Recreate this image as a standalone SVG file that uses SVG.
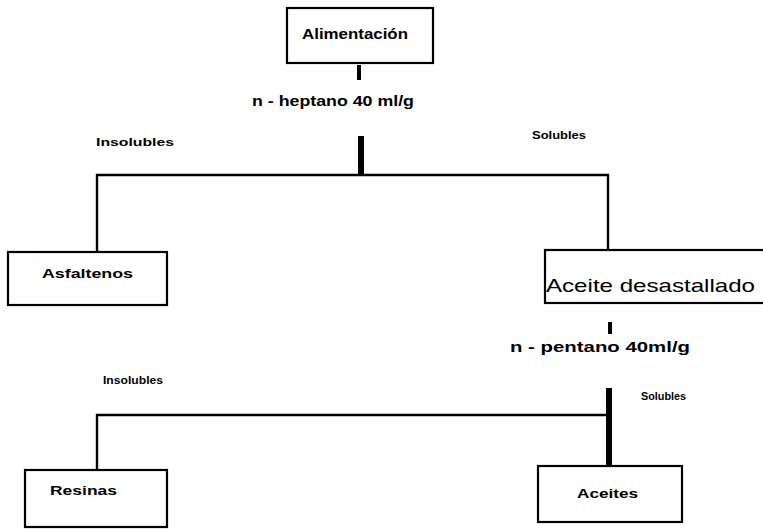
<svg xmlns="http://www.w3.org/2000/svg" width="763" height="529" viewBox="0 0 763 529">
  <style>
    .box { fill: #ffffff; stroke: #000000; stroke-width: 2.2; }
    .wire { fill: none; stroke: #000000; stroke-width: 2.4; stroke-linecap: square; }
    .trunk { fill: none; stroke: #000000; stroke-width: 6; }
    .tick { fill: none; stroke: #000000; stroke-width: 4; }
    .lbl { font-family: "Liberation Sans", Arial, sans-serif; font-weight: bold; fill: #000000; }
    .big { font-family: "Liberation Sans", Arial, sans-serif; font-size: 19px; fill: #000000; }
  </style>
  <rect width="763" height="529" fill="#ffffff"/>

  <!-- connectors -->
  <g id="connectors">
    <path class="tick" d="M359 65 V80"/>
    <path class="trunk" d="M361 136 V176"/>
    <path class="wire" d="M97 252 V175 H608 V250"/>
    <path class="tick" d="M610 322 V334"/>
    <path class="trunk" d="M609 388 V467"/>
    <path class="wire" d="M97 470 V415 H607"/>
  </g>

  <g id="alimentacion">
    <rect class="box" x="287" y="8" width="146" height="55"/>
    <text class="lbl" x="302" y="39" font-size="15" textLength="106" lengthAdjust="spacingAndGlyphs">Alimentación</text>
  </g>

  <g id="heptano">
    <text class="lbl" x="252" y="106" font-size="14" textLength="162" lengthAdjust="spacingAndGlyphs">n - heptano 40 ml/g</text>
  </g>

  <g id="insolubles-1">
    <text class="lbl" x="96" y="146" font-size="11" textLength="78" lengthAdjust="spacingAndGlyphs">Insolubles</text>
  </g>
  <g id="solubles-1">
    <text class="lbl" x="532" y="139" font-size="11" textLength="54" lengthAdjust="spacingAndGlyphs">Solubles</text>
  </g>

  <g id="asfaltenos">
    <rect class="box" x="8" y="252" width="159" height="53"/>
    <text class="lbl" x="42" y="278" font-size="12" textLength="91" lengthAdjust="spacingAndGlyphs">Asfaltenos</text>
  </g>

  <g id="aceite-desastallado">
    <rect class="box" x="545" y="250" width="222" height="53"/>
    <text class="big" x="546" y="292" textLength="209" lengthAdjust="spacingAndGlyphs">Aceite desastallado</text>
  </g>

  <g id="pentano">
    <text class="lbl" x="510" y="352" font-size="14" textLength="180" lengthAdjust="spacingAndGlyphs">n - pentano 40ml/g</text>
  </g>

  <g id="insolubles-2">
    <text class="lbl" x="103" y="384" font-size="11" textLength="60" lengthAdjust="spacingAndGlyphs">Insolubles</text>
  </g>
  <g id="solubles-2">
    <text class="lbl" x="641" y="400" font-size="11" textLength="45" lengthAdjust="spacingAndGlyphs">Solubles</text>
  </g>

  <g id="resinas">
    <rect class="box" x="25" y="470" width="142" height="57"/>
    <text class="lbl" x="50" y="495" font-size="12" textLength="67" lengthAdjust="spacingAndGlyphs">Resinas</text>
  </g>

  <g id="aceites">
    <rect class="box" x="538" y="466" width="144" height="56"/>
    <text class="lbl" x="577" y="498" font-size="12" textLength="61" lengthAdjust="spacingAndGlyphs">Aceites</text>
  </g>
</svg>
